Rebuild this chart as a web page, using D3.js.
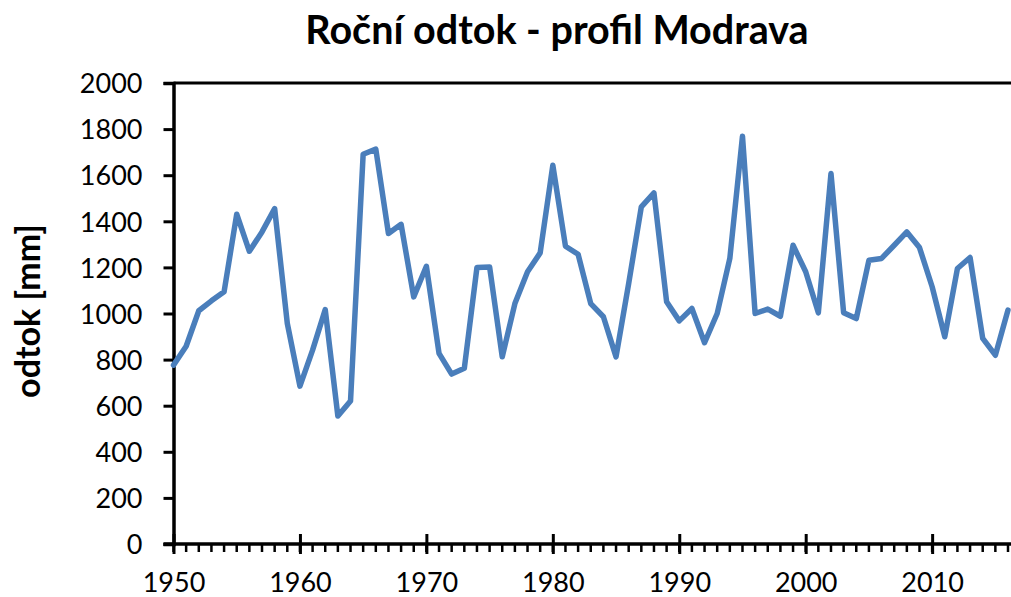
<!DOCTYPE html>
<html>
<head>
<meta charset="utf-8">
<script src="https://cdn.jsdelivr.net/npm/d3@7"></script>
<style>
    body { margin: 0; background: #fff; }
    svg text { font-family: Lato, "Open Sans", sans-serif; fill: #000; }
</style>
</head>
<body>
<svg id="chart" width="1011" height="597"></svg>
<script>
// roční odtok, profil Modrava (mm)
var years = d3.range(1950, 2017);
var odtok = [
    776, 858, 1012, 1055, 1094, 1431, 1270, 1354, 1455, 957,
    685, 841, 1017, 555, 620, 1691, 1713, 1347, 1387, 1072,
    1205, 827, 737, 762, 1200, 1202, 812, 1043, 1181, 1263,
    1643, 1292, 1257, 1043, 986, 812, 1130, 1463, 1523, 1051,
    968, 1022, 873, 1000, 1239, 1769, 1000, 1019, 988, 1296,
    1181, 1003, 1607, 1003, 978, 1231, 1239, 1296, 1354, 1286,
    1116, 899, 1195, 1243, 892, 819, 1015
];
var yTicks = [0, 200, 400, 600, 800, 1000, 1200, 1400, 1600, 1800, 2000];
var xTicks = [1950, 1960, 1970, 1980, 1990, 2000, 2010];

window.addEventListener("load", function () {
    drawChart();
});

function drawChart() {
    var svg = d3.select("#chart"),
        width = +svg.attr("width"),
        left = 173.5, right = 1008, top = 83, bottom = 544;

    var x = d3.scaleLinear().domain([1950, 2016]).range([left, right]),
        y = d3.scaleLinear().domain([0, 2000]).range([bottom, top]);

    // Title
    svg.append("text")
        .attr("x", 557)
        .attr("y", 44)
        .attr("text-anchor", "middle")
        .style("font-size", "39.5px")
        .style("font-weight", "bold")
        .text("Roční odtok - profil Modrava");

    // top line at 2000
    svg.append("line")
        .attr("x1", left).attr("x2", width)
        .attr("y1", y(2000)).attr("y2", y(2000))
        .attr("stroke", "#000").attr("stroke-width", 3);

    // Y axis
    var gy = svg.append("g")
        .attr("transform", "translate(" + left + ",0)")
        .call(d3.axisLeft(y).tickValues(yTicks).tickFormat(d3.format("d")).tickSize(10).tickPadding(21));
    gy.select(".domain").attr("stroke-width", 3.5);
    gy.selectAll(".tick line").attr("stroke-width", 3);
    gy.selectAll(".tick text").style("font-size", "27px").attr("dy", "0.36em");

    // minor year ticks
    svg.append("g")
        .selectAll("line")
        .data(years)
        .enter().append("line")
        .attr("x1", function (d) { return x(d); })
        .attr("x2", function (d) { return x(d); })
        .attr("y1", bottom)
        .attr("y2", bottom + 8)
        .attr("stroke", "#000")
        .attr("stroke-width", 2.5);

    // X axis
    var gx = svg.append("g")
        .attr("transform", "translate(0," + bottom + ")")
        .call(d3.axisBottom(x).tickValues(xTicks).tickFormat(d3.format("d")).tickSize(10).tickPadding(19));
    gx.select(".domain").remove();
    gx.selectAll(".tick line").attr("y1", -10).attr("stroke-width", 3);
    gx.selectAll(".tick text").style("font-size", "27px");
    svg.append("line")
        .attr("x1", left - 10).attr("x2", width)
        .attr("y1", bottom).attr("y2", bottom)
        .attr("stroke", "#000").attr("stroke-width", 3.5);

    // Y title
    svg.append("text")
        .attr("transform", "translate(40,311) rotate(-90)")
        .attr("text-anchor", "middle")
        .style("font-size", "34px")
        .style("font-weight", "bold")
        .text("odtok [mm]");

    // Line
    var line = d3.line()
        .x(function (d, i) { return x(years[i]); })
        .y(function (d) { return y(d); });

    svg.append("path")
        .datum(odtok)
        .attr("fill", "none")
        .attr("stroke", "#4a7ebb")
        .attr("stroke-width", 5.5)
        .attr("stroke-linejoin", "round")
        .attr("stroke-linecap", "round")
        .attr("d", line);
}
</script>
</body>
</html>
